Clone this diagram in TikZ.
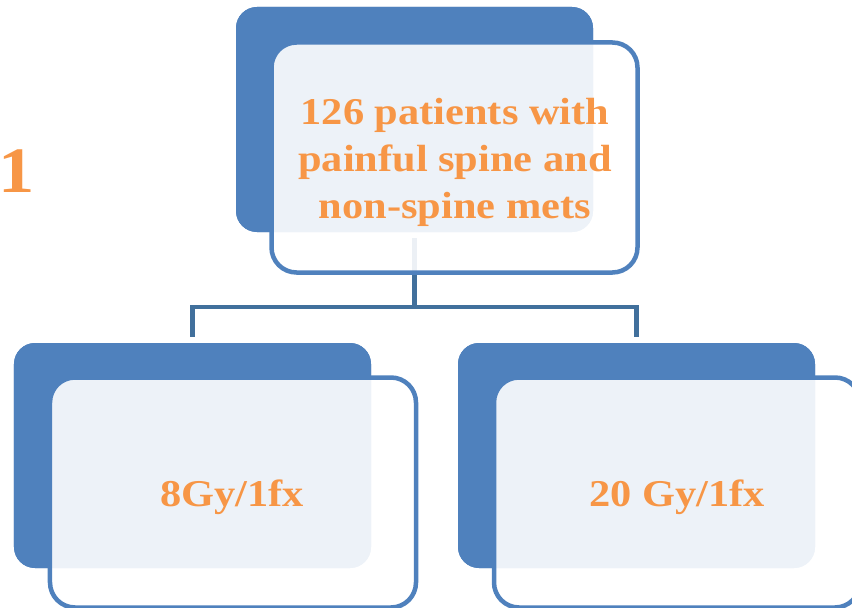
\documentclass[tikz,border=0pt]{standalone}
\usepackage{fontspec}
\newfontfamily\palfont[FakeStretch=1.12]{Liberation Serif}
\definecolor{accblue}{HTML}{4F81BD}
\definecolor{connblue}{HTML}{41709C}
\definecolor{accorange}{HTML}{F79646}
\begin{document}
\begin{tikzpicture}[x=1bp,y=-1bp,
  backbox/.style={rectangle, rounded corners=21bp, fill=accblue, draw=none,
    minimum width=357bp, minimum height=225bp, inner sep=0pt},
  frontbox/.style={rectangle, rounded corners=25bp, draw=accblue, line width=4.5bp,
    fill=white, fill opacity=0.9, minimum width=366bp, minimum height=230bp, inner sep=0pt},
  conn/.style={draw=connblue, line width=4.5bp},
  lbl/.style={font=\palfont\bfseries\fontsize{38}{47}\selectfont, text=accorange, align=center, inner sep=0pt}]
\clip (0,0) rectangle (852,608);
% back boxes (placed first so connectors can reference them)
\node[backbox] (b1) at (414.5,119.5) {};
\node[backbox] (b2) at (192.5,455.5) {};
\node[backbox] (b3) at (636.5,455.5) {};
% connectors
\coordinate (j) at (b1.south |- 0,307);
\draw[conn] ([yshift=-6bp]b1.south) -- (j);
\draw[conn] (j) -| ([yshift=6bp]b2.north);
\draw[conn] (j) -| ([yshift=6bp]b3.north);
% redraw back boxes above connectors
\node[backbox] at (b1) {};
\node[backbox] at (b2) {};
\node[backbox] at (b3) {};
% front boxes
\node[frontbox] (f1) at (454.5,157.5) {};
\node[frontbox] (f2) at (233,492.5) {};
\node[frontbox] (f3) at (677,492.5) {};
% labels
\node[lbl] (t1) at (455,162.5) {126 patients with\\painful spine and\\non-spine mets};
\node[lbl] (t2) at (232,497) {8Gy/1fx};
\node[lbl] (t3) at (677,497) {20 Gy/1fx};
\node[lbl, font=\palfont\bfseries\fontsize{65}{70}\selectfont] (n1) at (17,171) {1};
\end{tikzpicture}
\end{document}
